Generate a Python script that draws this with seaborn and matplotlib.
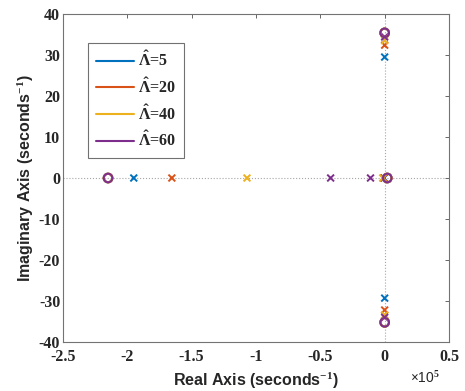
import matplotlib
matplotlib.use("Agg")
import matplotlib.pyplot as plt
from matplotlib.lines import Line2D
from matplotlib.ticker import FuncFormatter
import seaborn as sns
import pandas as pd

# ---- data ----
labels = ["5", "20", "40", "60"]
colors = ["#0072BD", "#D95319", "#EDB120", "#7E2F8E"]

pole_re = {
    "5":  [-1.95e5, -0.005e5, 0.0, 0.0],
    "20": [-1.654e5, -0.01e5, 0.0, 0.0],
    "40": [-1.07e5, -0.015e5, 0.0, 0.0],
    "60": [-0.42e5, -0.11e5, 0.0, 0.0],
}
pole_im = {
    "5":  [0.0, 0.0, 29.5, -29.3],
    "20": [0.0, 0.0, 32.4, -32.2],
    "40": [0.0, 0.0, 33.5, -33.4],
    "60": [0.0, 0.0, 34.4, -34.0],
}
zero_re = {
    "5":  [-2.15e5, 0.02e5, 0.0, 0.0],
    "20": [-2.15e5, 0.02e5, 0.0, 0.0],
    "40": [-2.15e5, 0.02e5, 0.0, 0.0],
    "60": [-2.15e5, 0.02e5, 0.0, 0.0],
}
zero_im = {
    "5":  [0.0, 0.0, 35.4, -35.2],
    "20": [0.0, 0.0, 35.4, -35.2],
    "40": [0.0, 0.0, 35.4, -35.2],
    "60": [0.0, 0.0, 35.4, -35.2],
}

xticks = [-2.5e5, -2e5, -1.5e5, -1e5, -0.5e5, 0, 0.5e5]
yticks = [-40, -30, -20, -10, 0, 10, 20, 30, 40]
x_scale = 1e5

legend_labels = [r"$\hat{\Lambda}$=" + l for l in labels]

# ---- frames ----
rows_p, rows_z = [], []
for l in labels:
    for r, i in zip(pole_re[l], pole_im[l]):
        rows_p.append({"re": r, "im": i, "lam": l})
    for r, i in zip(zero_re[l], zero_im[l]):
        rows_z.append({"re": r, "im": i, "lam": l})
dfp = pd.DataFrame(rows_p)
dfz = pd.DataFrame(rows_z)
palette = dict(zip(labels, colors))

sns.set_style("white")
plt.rcParams["axes.unicode_minus"] = False
plt.rcParams["mathtext.fontset"] = "custom"
plt.rcParams["mathtext.rm"] = "Liberation Serif:bold"
plt.rcParams["mathtext.it"] = "Liberation Serif:bold"
plt.rcParams["mathtext.bf"] = "Liberation Serif:bold"

fig = plt.figure(figsize=(4.65, 3.91), dpi=100)
ax = fig.add_axes([0.1355, 0.1253, 0.8301, 0.8389])

ax.axhline(0, ls=":", color="0.65", lw=0.8, zorder=0)
ax.axvline(0, ls=":", color="0.65", lw=0.8, zorder=0)

sns.scatterplot(data=dfp, x="re", y="im", hue="lam", palette=palette,
                hue_order=labels, marker="x", s=24, linewidth=1.4,
                legend=False, ax=ax, zorder=3)
sns.scatterplot(data=dfz, x="re", y="im", hue="lam", palette=palette,
                hue_order=labels, marker="o", s=38, linewidth=1.5,
                legend=False, ax=ax, zorder=4)
coll = ax.collections[-1]
fc = coll.get_facecolors()
coll.set_edgecolors(fc)
coll.set_facecolors("none")

ax.set_xlim(-2.5e5, 0.5e5)
ax.set_ylim(-40, 40)
ax.set_xticks(xticks)
ax.set_yticks(yticks)
ax.xaxis.set_major_formatter(FuncFormatter(lambda v, p: f"{v / x_scale:g}"))
ax.tick_params(direction="in", top=True, right=True, length=3, width=0.7,
               color="0.4")
ax.tick_params(axis="x", pad=5)
ax.tick_params(axis="y", pad=2)
for lab in ax.get_xticklabels() + ax.get_yticklabels():
    lab.set_fontfamily("Liberation Serif")
    lab.set_fontweight("bold")
    lab.set_fontsize(11.5)
for s in ax.spines.values():
    s.set_color("0.45")
    s.set_linewidth(0.8)

ax.text(0.977, -0.085, r"$\times$10$^{5}$", transform=ax.transAxes,
        ha="right", va="top", fontsize=10, fontfamily="Liberation Sans")

ax.set_xlabel("Real Axis (seconds$^{-1}$)", fontfamily="Liberation Sans",
              fontsize=11.5, fontweight="bold", labelpad=4)
ax.set_ylabel("Imaginary Axis (seconds$^{-1}$)", fontfamily="Liberation Sans",
              fontsize=11.5, fontweight="bold", labelpad=2)

handles = [Line2D([0], [0], color=c, lw=1.5) for c in colors]
leg = ax.legend(handles, legend_labels, loc="upper left",
                bbox_to_anchor=(0.065, 0.912), borderaxespad=0,
                prop={"family": "Liberation Serif", "weight": "bold", "size": 11.5},
                frameon=True, fancybox=False, handlelength=2.4,
                handletextpad=0.2, labelspacing=0.45, borderpad=0.5)
leg.get_frame().set_edgecolor("0.3")
leg.get_frame().set_linewidth(0.8)

fig.savefig("out.png", dpi=100)
